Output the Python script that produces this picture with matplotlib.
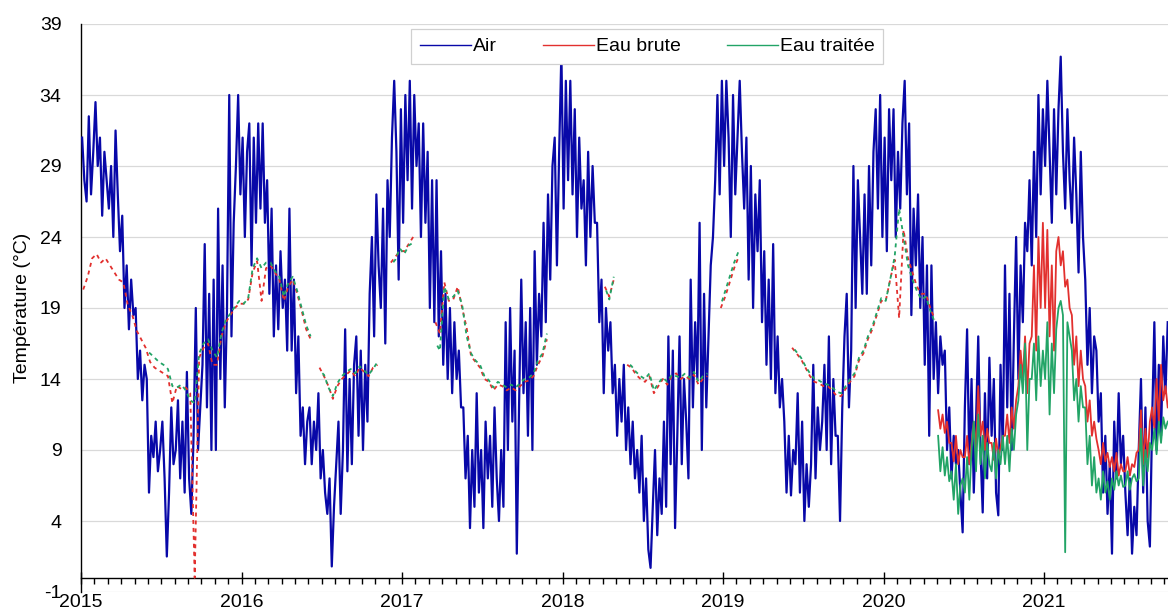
import numpy as np
import matplotlib
matplotlib.use("Agg")
import matplotlib.pyplot as plt
from matplotlib.ticker import MultipleLocator, FixedLocator

plt.rcParams["font.family"] = ["Liberation Sans", "DejaVu Sans"]
plt.rcParams["axes.unicode_minus"] = False

OUT_PATH = "out.png"

# air temperature, 6 readings per month, starting Jan 2015
air_2015 = [31, 28, 26.5, 32.5, 27, 30,  33.5, 29, 31, 25.5, 30, 28,
            26, 29, 24, 31.5, 27, 23,  25.5, 19, 22, 17.5, 21, 18.5,
            19, 14, 16, 12.5, 15, 14,  6, 10, 8.5, 11, 7.5, 9,
            11, 7, 1.5, 6, 12, 8,  9, 12.5, 7, 11, 6, 14.5,
            7, 4.5, 10, 19, 9, 12,  15, 23.5, 12, 20, 9, 21,
            9, 26, 14, 22, 12, 19,  34, 17, 25, 29, 34, 27]
air_2016 = [31, 24, 30, 32, 22, 31,  25, 32, 26, 32, 25, 28,
            20, 26, 17, 22, 17.5, 23,  19, 21, 16, 26, 16, 21,
            13, 17, 10, 12, 8, 11,  12, 8, 11, 9, 13, 7,
            9, 6, 4.5, 7, 0.8, 5,  8, 11, 4.5, 9, 17.5, 7.5,
            14, 8, 15, 17, 10, 16,  9, 15, 11, 20, 24, 17,
            27, 22, 19, 26, 16.5, 28,  24, 31, 35, 30, 21, 33]
air_2017 = [25, 34, 28, 35, 26, 34,  29, 32, 24, 32, 25, 30,
            19, 28, 18, 28, 17, 23,  15, 20, 14, 19, 13, 18,
            14, 16, 12, 12, 7, 10,  3.5, 9, 5, 13, 6, 9,
            3.5, 11, 7, 10, 5, 12,  7, 4, 9, 5, 18, 9,
            19, 11, 16, 1.7, 12, 21,  13, 18, 10, 19, 9, 23,
            15, 20, 17, 25, 18, 27,  21, 29, 31, 22, 30, 37]
air_2018 = [26, 35, 28, 35, 27, 33,  24, 31, 26, 28, 22, 30,
            24, 29, 25, 25, 18, 21,  13, 19, 16, 18, 13, 15,
            10, 14, 11, 15, 9, 12,  8, 11, 7, 9, 6, 10,
            4, 7, 2, 0.7, 5, 9,  3, 7, 4.5, 11, 5, 17,
            8, 16, 3.5, 10, 17, 8,  14, 11, 7, 21, 12, 18,
            14, 25, 9, 20, 12, 17,  22, 24, 28, 34, 27, 35]
air_2019 = [29, 35, 31, 24, 34, 27,  31, 35, 30, 26, 31, 21,
            29, 19, 27, 23, 28, 18,  23, 15, 21, 14, 23.5, 13,
            17, 12, 14, 11, 6, 10,  5.8, 9, 8, 13, 6, 11,
            4, 8, 5, 8, 15, 7,  12, 9, 11, 15, 9, 17,
            8, 14, 10, 10, 4, 12,  17, 20, 12, 16, 29, 19,
            28, 24, 20, 27, 20, 29,  22, 30, 33, 26, 34, 24]
air_2020 = [31, 23, 33, 28, 33, 24,  30, 26, 32, 35, 27, 32,
            18.5, 26, 22, 27, 19, 24,  15, 22, 10, 22, 14, 18,
            13, 17, 15, 16, 9, 12,  7, 10, 8, 9, 6, 3.2,
            12, 17.5, 8, 14, 6, 11,  17, 9, 4.6, 13, 7, 15.5,
            10, 14, 6, 4.4, 15, 9,  22, 12, 20, 9, 17, 24,
            14, 22, 18, 25, 23, 28,  22, 30, 24, 34, 27, 33]
air_2021 = [29, 35, 30, 25, 33, 27,  33, 36.7, 30, 26, 33, 28,
            25, 31, 27, 21.5, 30, 24,  21, 15, 19, 13, 17, 16,
            11, 13, 6, 10, 4.5, 8,  1.7, 11, 7, 13, 8, 10,
            6, 3, 7, 1.7, 5, 3,  9, 14, 6, 12, 4, 2.2,
            11, 18, 9, 15, 10, 17,  13, 18]

nan = np.nan

# water, Jan 2015 - Apr 2020, 3 readings per month (gaps = nan)
brute_early = [20.3, 21.2, 22.5, 22.8, 22.2, 22.5, 22.0, 21.5, 21.0, 20.8, 19.2, 18.5,
               17.4, 16.8, 16.2, 15.2, 14.8, 14.6, 14.4, 14.2, 12.3, 13.5, 13.3, 13.4,
               13.0, 0.0, 15.5, 16.2, 16.5, 15.0, 15.0, 17.0, 18.0, 18.5, 19.0, 19.3,
               # 2016
               19.3, 19.6, 21.5, 22.3, 19.5, 21.8, 22.0, 21.5, 21.0, 19.5, 20.5, 21.0,
               20.0, 18.8, 17.5, 16.8, nan, 14.8, 14.2, 13.5, 12.6, 13.5, 14.0, 14.3,
               14.6, 14.2, 14.8, 14.5, 14.2, 14.8, 15.0, nan, nan, 22.2, 22.6, 23.0,
               # 2017
               23.0, 23.5, 24.0, nan, nan, nan, nan, 18.0, 17.2, 20.8, 19.5, 19.6,
               20.5, 19.0, 17.6, 15.6, 15.2, 14.8, 14.0, 13.8, 13.2, 13.6, 13.5, 13.2,
               13.4, 13.2, 13.5, 13.8, 13.9, 14.2, 15.0, 15.6, 16.8, nan, nan, nan,
               # 2018
               nan, nan, nan, nan, nan, nan, nan, nan, nan, 20.5, 19.8, 21.0,
               nan, nan, 15.0, 14.8, 14.3, 14.0, 13.8, 14.2, 13.0, 13.5, 14.0, 13.6,
               14.2, 14.4, 14.0, 14.2, 14.0, 14.3, 13.6, 14.0, 14.2, nan, nan, 19.0,
               # 2019
               19.8, 20.8, 21.8, 22.6, nan, nan, nan, nan, nan, nan, nan, nan,
               nan, nan, nan, 16.2, 15.8, 15.4, 14.8, 14.2, 13.8, 13.7, 13.5, 13.5,
               13.2, 12.8, 12.8, 13.3, 13.8, 14.2, 15.3, 15.8, 16.8, 17.5, 18.5, 19.5,
               # 2020
               19.5, 21.0, 22.4, 18.3, 24.5, 22.5, 21.5, 20.5, 20.0, 20.0, 19.0, 18.2]
traitee_early = [nan, nan, nan, nan, nan, nan, nan, nan, nan, nan, nan, nan,
                 nan, nan, 16.0, 15.8, 15.5, 15.2, 15.0, 14.7, 13.5, 13.4, 13.6, 13.2,
                 12.5, 12.3, 15.8, 16.5, 16.8, 16.0, 15.5, 17.2, 18.2, 18.6, 19.1, 19.5,
                 # 2016
                 19.3, 19.7, 21.8, 22.5, 21.8, 22.2, 22.2, 21.6, 21.2, 19.8, 20.8, 21.2,
                 20.2, 19.0, 17.8, 17.0, nan, 14.6, 14.3, 13.4, 12.8, 13.7, 14.2, 14.5,
                 14.7, 14.4, 14.9, 14.6, 14.3, 14.7, 15.2, nan, nan, 22.0, 22.4, 23.2,
                 # 2017
                 22.8, 23.4, 23.6, nan, nan, nan, nan, 16.6, 16.0, 20.5, 19.6, 19.8,
                 20.2, 19.2, 17.0, 15.8, 15.3, 15.0, 14.2, 13.9, 13.4, 13.8, 13.6, 13.4,
                 13.6, 13.4, 13.7, 14.0, 14.1, 14.4, 15.3, 15.8, 17.2, nan, nan, nan,
                 # 2018
                 nan, nan, nan, nan, nan, nan, nan, nan, nan, 20.5, 19.6, 21.2,
                 nan, nan, 15.2, 14.9, 14.5, 14.2, 14.0, 14.4, 13.2, 13.7, 14.1, 13.8,
                 14.3, 14.2, 14.1, 14.4, 14.1, 14.5, 13.8, 14.2, 14.4, nan, nan, 19.2,
                 # 2019
                 20.2, 21.2, 22.2, 23.0, nan, nan, nan, nan, nan, nan, nan, nan,
                 nan, nan, nan, 16.3, 15.9, 15.5, 14.9, 14.4, 14.0, 13.9, 13.7, 13.6,
                 13.4, 13.1, 13.0, 13.5, 14.0, 14.4, 15.5, 16.0, 17.0, 17.7, 18.7, 19.7,
                 # 2020
                 19.5, 21.0, 22.6, 26.0, 24.0, 22.0, 21.0, 20.2, 19.6, 19.8, 18.8, 18.0]

# water, May 2020 onwards, 6 readings per month
brute_late = [11.8, 10.5, 11.5, 10.2, 11, 9.5,  9.5, 8.2, 10, 8, 9, 8.5,
              8.5, 10, 8, 9.5, 11, 9,  13.5, 10, 11, 9, 10.5, 9.5,
              9.5, 8.3, 9.8, 8.5, 9.2, 10,  10, 11.5, 9.5, 12, 10.5, 12.5,
              13.5, 16, 14, 17, 13, 16.5,  17, 22, 16, 24, 19, 25,
              19, 24.5, 17, 22, 16, 23,  24, 22, 23, 20.5, 21, 19,
              18.5, 15, 17, 13.5, 16, 14,  13.5, 11, 12.5, 10, 11, 9.8,
              9, 8, 9.5, 8.2, 8.8, 7.8,  8.5, 7.5, 8.8, 7.2, 8, 7.5,
              7.5, 8.5, 7.2, 8, 7.8, 8.8,  9, 11.8, 8, 10.5, 8.5, 11,
              12, 10.5, 14, 11, 15, 12.5,  13.5, 12]
traitee_late = [10, 7.5, 9.2, 7.2, 8.5, 6.8,  7.5, 5.5, 8, 4.5, 6.5, 7,
                6, 8.5, 5.5, 9, 11, 7.5,  11.5, 8, 10, 7, 9.5, 8,
                7.5, 9.5, 7, 9, 8, 10,  8, 10, 7.5, 10.5, 9, 11.5,
                12.5, 15, 13, 16.5, 9, 14,  14, 16.5, 12.5, 17, 13.5, 16,
                14, 18, 11.5, 16.5, 13, 17.5,  19, 19.5, 18.5, 1.8, 18, 17,
                16, 12.5, 14, 11, 13.5, 12,  12, 8, 10, 6.5, 8.5, 6,
                7, 5.5, 7.5, 6, 6.8, 5.5,  7, 6.2, 7.5, 6.5, 7.2, 6.4,
                6.5, 7.5, 6.2, 7, 7.3, 6.8,  7, 10.5, 6.5, 9, 7.5, 9.5,
                9, 10.5, 8.7, 11, 9.5, 11.3,  10.5, 11]

years = [2015, 2016, 2017, 2018, 2019, 2020, 2021]
y_ticks = [-1, 4, 9, 14, 19, 24, 29, 34, 39]
labels = ["Air", "Eau brute", "Eau traitée"]

AIR_COLOR = "#0808A8"
BRUTE_COLOR = "#E2302E"
TRAITEE_COLOR = "#22A466"


def main():
    air = np.array(air_2015 + air_2016 + air_2017 + air_2018 + air_2019 + air_2020 + air_2021, dtype=float)
    t_air = 2015 + (np.arange(len(air)) + 0.5) / 72

    b_early = np.array(brute_early, dtype=float)
    g_early = np.array(traitee_early, dtype=float)
    t_early = 2015 + (np.arange(len(b_early)) + 0.5) / 36

    b_late = np.array(brute_late, dtype=float)
    g_late = np.array(traitee_late, dtype=float)
    t_late = 2020 + 4 / 12 + (np.arange(len(b_late)) + 0.5) / 72

    fig = plt.figure(figsize=(11.68, 6.10), dpi=100)
    ax = fig.add_axes([81 / 1168, 18 / 610, 1 - 81 / 1168, (592 - 24) / 610])

    ax.plot(t_air, air, color=AIR_COLOR, lw=1.6, label=labels[0], zorder=3)
    ax.plot(t_early, b_early, color=BRUTE_COLOR, lw=1.3, ls=(0, (2.2, 2.2)), zorder=4)
    ax.plot(t_early, g_early, color=TRAITEE_COLOR, lw=1.3, ls=(2.2, (2.2, 2.2)), zorder=5)
    ax.plot(t_late, b_late, color=BRUTE_COLOR, lw=1.3, label=labels[1], zorder=4)
    ax.plot(t_late, g_late, color=TRAITEE_COLOR, lw=1.3, label=labels[2], zorder=5)

    ax.set_xlim(2015, 2015 + 1087 / 160.5)
    ax.set_ylim(-1, 39)

    ax.yaxis.set_major_locator(FixedLocator(y_ticks))
    ax.xaxis.set_major_locator(FixedLocator(years))
    ax.xaxis.set_minor_locator(MultipleLocator(1 / 12))
    ax.set_xticklabels([str(y) for y in years])

    ax.grid(axis="y", color="#D9D9D9", lw=0.9)
    ax.set_axisbelow(True)

    for side in ["top", "right"]:
        ax.spines[side].set_visible(False)
    ax.spines["bottom"].set_position(("data", 0))
    ax.spines["left"].set_linewidth(1.0)
    ax.spines["bottom"].set_linewidth(1.0)

    ax.tick_params(axis="y", length=0, pad=14, labelsize=14)
    ax.tick_params(axis="x", which="major", direction="inout", length=9, width=1, pad=7, labelsize=14)
    ax.tick_params(axis="x", which="minor", direction="out", length=4, width=1)

    ax.set_ylabel("Température (°C)", fontsize=14, labelpad=6)

    leg = ax.legend(loc="upper center", bbox_to_anchor=(0.521, 1 - 5 / 568), ncol=3,
                    fontsize=14, frameon=True, fancybox=False, framealpha=1,
                    edgecolor="#D0D0D0", handlelength=2.6, handletextpad=0.1,
                    columnspacing=2.4, borderpad=0.45, borderaxespad=0)
    leg.get_frame().set_linewidth(0.9)
    for line in leg.get_lines():
        line.set_linewidth(1.0)

    fig.savefig(OUT_PATH, dpi=100)
    plt.close(fig)


if __name__ == "__main__":
    main()
